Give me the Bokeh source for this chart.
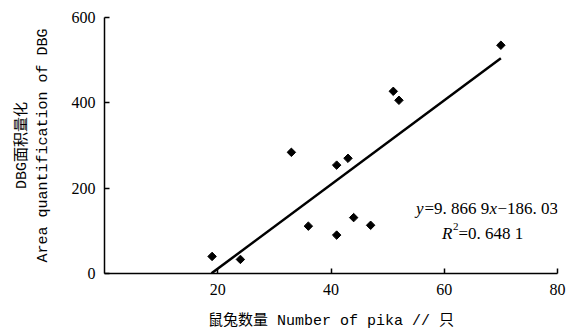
import numpy as np
from bokeh.plotting import figure
from bokeh.models import FixedTicker, Range1d, Label
from bokeh.embed import file_html
from bokeh.resources import INLINE

# data
pika = [19, 24, 33, 36, 41, 41, 43, 44, 47, 51, 52, 70]
dbg = [40, 33, 284, 111, 254, 90, 270, 131, 113, 427, 406, 535]
slope = 9.8669
intercept = -186.03
fit_x = [18.9, 70]
x_ticks = [20, 40, 60, 80]
y_ticks = [0, 200, 400, 600]
eq_text = ["y", "=9. 866 9", "x", "\u2212186. 03"]
r2_text = ["R", "2", "=0. 648 1"]

MONO = "'Liberation Mono', 'Noto Sans CJK SC'"

p = figure(width=568, height=333, output_backend="svg", toolbar_location=None,
           x_range=Range1d(0, 80), y_range=Range1d(0, 600),
           min_border_left=104, min_border_right=11, min_border_top=17, min_border_bottom=60)
p.outline_line_color = None
p.grid.visible = False
p.background_fill_color = "white"
p.border_fill_color = "white"

for ax in (p.xaxis[0], p.yaxis[0]):
    ax.axis_line_width = 1.5
    ax.axis_line_color = "black"
    ax.major_tick_in = 5
    ax.major_tick_out = 0
    ax.major_tick_line_width = 1.5
    ax.minor_tick_line_color = None
    ax.major_label_text_font = "Liberation Serif"
    ax.major_label_text_font_size = "16px"
    ax.major_label_text_color = "black"
    ax.axis_label_text_font = MONO
    ax.axis_label_text_font_size = "15px"
    ax.axis_label_text_font_style = "normal"
    ax.axis_label_text_color = "black"

p.xaxis.ticker = FixedTicker(ticks=x_ticks)
p.yaxis.ticker = FixedTicker(ticks=y_ticks)
p.xaxis.major_label_standoff = 10
p.yaxis.major_label_standoff = 9
p.xaxis.axis_label = "鼠兔数量 Number of pika // 只"
p.yaxis.axis_label = "DBG面积量化\nArea quantification of DBG"
p.xaxis.axis_label_standoff = 15
p.yaxis.axis_label_standoff = 17

fit_y = [slope * x + intercept for x in fit_x]
p.line(fit_x, fit_y, line_color="black", line_width=2.5)
p.scatter(pika, dbg, marker="square", size=6, angle=np.pi / 4,
          fill_color="black", line_color="black")

# equation annotation (anchor in data space, pieces offset in pixels)
ax_, ay_ = 55.0, 152.3
eq_offsets = [0, 8.5, 73.5, 81.5]
eq_styles = ["italic", "normal", "italic", "normal"]
for t, off, st in zip(eq_text, eq_offsets, eq_styles):
    p.add_layout(Label(x=ax_, y=ay_, text=t, x_offset=off, y_offset=0,
                       text_font="Liberation Serif", text_font_size="17px",
                       text_font_style=st, text_baseline="alphabetic",
                       text_align="left", text_color="black"))
r2_offsets = [26, 37, 42.5]
r2_yoff = [-25, -18, -25]
r2_sizes = ["17px", "11px", "17px"]
r2_styles = ["italic", "normal", "normal"]
for t, off, yo, sz, st in zip(r2_text, r2_offsets, r2_yoff, r2_sizes, r2_styles):
    p.add_layout(Label(x=ax_, y=ay_, text=t, x_offset=off, y_offset=yo,
                       text_font="Liberation Serif", text_font_size=sz,
                       text_font_style=st, text_baseline="alphabetic",
                       text_align="left", text_color="black"))

open("out.html", "w").write(file_html(p, INLINE))
